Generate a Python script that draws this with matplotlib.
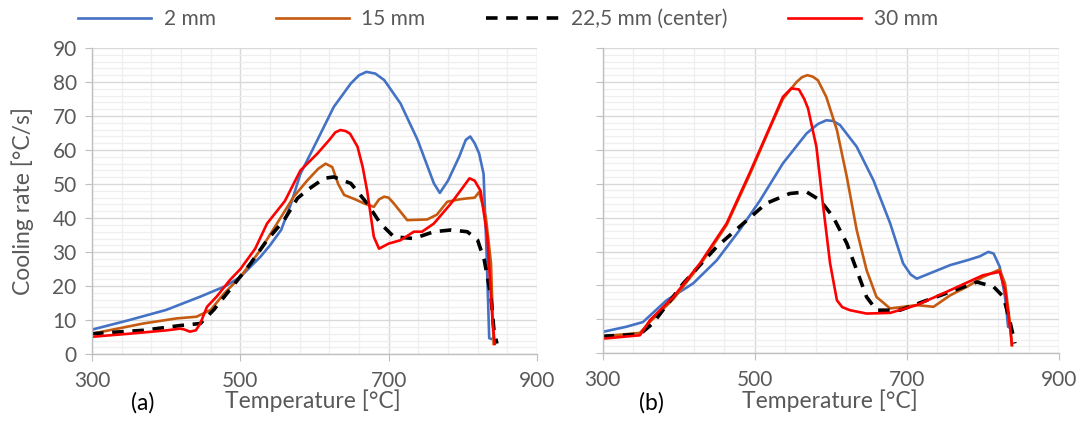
import numpy as np
import matplotlib
matplotlib.use("Agg")
import matplotlib.pyplot as plt
from matplotlib.ticker import MultipleLocator

plt.rcParams["font.family"] = ["Lato", "DejaVu Sans"]
txt = "#595959"

# ---- panel (a) ----
a_T_2 = [300, 350, 400, 446, 480, 500, 527, 540, 555, 568, 581, 604, 626, 649, 660, 670, 682, 694, 716, 739, 761, 769, 780, 795, 804, 810, 816, 822, 828, 832, 835.6, 838]
a_v_2 = [7.2, 10, 13, 16.9, 20, 22.7, 28.6, 32, 36.5, 44, 53, 63, 72.7, 79.6, 82, 83, 82.5, 80.6, 73.7, 63, 50.2, 47.4, 51, 58, 63, 64, 62, 59, 53, 30, 4.7, 4.5]

a_T_15 = [300, 369, 414, 441, 460, 478, 500, 527, 558, 572, 590, 605, 615, 624, 632, 640, 655, 667, 680, 687, 694, 700, 707, 725, 752, 765, 779, 795, 806, 816, 822, 831, 838, 841.5]
a_v_15 = [6, 9, 10.5, 11, 13, 17.8, 22.7, 30.6, 41.4, 46.3, 51, 54.5, 56, 55, 50, 46.8, 45.5, 44.3, 43.3, 45.5, 46.3, 46, 44.3, 39.4, 39.6, 41, 44.8, 45.5, 45.8, 46, 47.7, 40.4, 26.7, 3]

a_T_c = [300, 369, 419, 446, 464, 491, 514, 536, 559, 577, 590, 613, 626, 649, 671, 689, 707, 734, 761, 784, 806, 820, 829, 838, 842, 846]
a_v_c = [6, 7, 8.4, 9, 13, 20.3, 26.7, 33.5, 39.4, 45.8, 48.2, 51.7, 52.1, 50.2, 44.3, 38.4, 34.5, 34, 36, 36.5, 36, 33.5, 27.6, 16.8, 7, 3.1]

a_T_30 = [300, 350, 401, 419, 425, 432, 440, 446, 455, 468, 486, 500, 520, 536, 560, 581, 604, 620, 628, 635, 642, 648, 658, 665, 671, 680, 687, 700, 716, 734, 745, 761, 784, 800, 809, 816, 824, 833, 840, 843]
a_v_30 = [5.1, 6, 7, 7.5, 7.2, 6.6, 7, 9, 13.9, 16.9, 21.8, 25, 31, 38.4, 45, 54, 59, 63, 65.2, 65.9, 65.6, 64.8, 61, 55, 48, 34.5, 31, 32.5, 33.5, 36, 36, 38.4, 44.3, 49, 51.7, 51, 48, 34.5, 10, 3]

# ---- panel (b) ----
b_T_2 = [300, 331, 353, 384, 419, 450, 480, 507, 537, 568, 583, 594, 603, 612, 634, 656, 678, 695, 705, 713, 735, 757, 779, 796, 807, 814, 822, 829, 833, 836]
b_v_2 = [6.3, 7.8, 9.2, 15.6, 20.6, 27.4, 36.3, 45.1, 56, 64.8, 67.6, 68.7, 68.5, 67.3, 60.9, 51, 38.3, 26.5, 23.2, 22, 24, 26, 27.4, 28.6, 29.9, 29.4, 25.5, 16.6, 7.8, 7.5]

b_T_15 = [300, 349, 362, 393, 428, 463, 493, 520, 537, 555, 562, 569, 576, 583, 594, 608, 621, 634, 647, 660, 678, 713, 735, 757, 779, 800, 822, 829, 836, 838]
b_v_15 = [5, 6, 9.2, 16, 26, 37.8, 52.5, 66.5, 75, 80, 81.4, 82, 81.6, 80.5, 75.6, 65.8, 52, 36.3, 24.5, 16.6, 13.2, 14.2, 13.7, 17.1, 19.6, 22.5, 24.7, 20.6, 8, 2.4]

b_T_c = [300, 349, 366, 406, 450, 485, 515, 546, 568, 586, 603, 621, 634, 647, 660, 691, 726, 757, 792, 814, 827, 836, 842]
b_v_c = [5, 5.6, 8.8, 20.6, 31.4, 38.3, 44.2, 47.1, 47.6, 45.1, 40.2, 32.4, 24.5, 16.6, 12.7, 12.7, 15.6, 18.1, 21, 19.6, 16.6, 8.8, 2.9]

b_T_30 = [300, 349, 362, 393, 428, 463, 493, 520, 537, 548, 558, 565, 570, 581, 590, 599, 608, 615, 625, 647, 678, 713, 757, 800, 822, 829, 836, 838]
b_v_30 = [4.3, 5.3, 9.7, 16.6, 26.5, 38.3, 53, 66.8, 75.6, 78.1, 77.8, 75, 72.2, 60.9, 43.2, 26.5, 15.6, 13.6, 12.7, 11.7, 11.9, 14.2, 18.6, 23, 24, 18.6, 6.8, 2.4]

labels = ["2 mm", "15 mm", "22,5 mm (center)", "30 mm"]
x_ticks = [300, 500, 700, 900]
x_minor = [340, 380, 420, 460, 540, 580, 620, 660, 740, 780, 820, 860]
y_minor = [v for v in range(2, 90, 2) if v % 10 != 0]

fig = plt.figure(figsize=(10.8, 4.41), dpi=100)
ax_a = fig.add_axes([0.0852, 0.197, 0.412, 0.694])
ax_b = fig.add_axes([0.558, 0.199, 0.4226, 0.692])

panels = [
    (ax_a, [(a_T_2, a_v_2), (a_T_15, a_v_15), (a_T_c, a_v_c), (a_T_30, a_v_30)]),
    (ax_b, [(b_T_2, b_v_2), (b_T_15, b_v_15), (b_T_c, b_v_c), (b_T_30, b_v_30)]),
]

for ax, series in panels:
    ax.plot(series[0][0], series[0][1], color="#4472c4", lw=1.9, label=labels[0])
    ax.plot(series[1][0], series[1][1], color="#c55a11", lw=1.9, label=labels[1])
    ax.plot(series[2][0], series[2][1], color="black", lw=2.6, dashes=(3.2, 2.4), label=labels[2])
    ax.plot(series[3][0], series[3][1], color="#ff0000", lw=1.9, label=labels[3])

    ax.set_xlim(300, 900)
    ax.set_ylim(0, 90)
    ax.set_xticks(x_ticks)
    ax.set_xticks(x_minor, minor=True)
    ax.yaxis.set_major_locator(MultipleLocator(10))
    ax.set_yticks(y_minor, minor=True)
    ax.grid(True, which="minor", color="#efefef", lw=0.9)
    ax.grid(True, which="major", color="#d9d9d9", lw=1.0)
    ax.set_axisbelow(True)
    for s in ["top", "right"]:
        ax.spines[s].set_visible(False)
    for s in ["left", "bottom"]:
        ax.spines[s].set_color("#bfbfbf")
        ax.spines[s].set_linewidth(1.0)
    ax.tick_params(which="major", length=5, color="#bfbfbf", labelsize=15, labelcolor=txt)
    ax.tick_params(axis="x", pad=7)
    ax.tick_params(axis="y", pad=6)
    ax.tick_params(which="minor", length=0)

ax_b.tick_params(axis="y", labelleft=False)

fig.text(23 / 1080, 1 - 201 / 441, "Cooling rate [°C/s]", rotation=90, ha="center", va="center", fontsize=16.5, color=txt)
fig.text(143 / 1080, 1 - 403 / 441, "(a)", ha="center", va="center", fontsize=16.5, color="black")
fig.text(313 / 1080, 1 - 401 / 441, "Temperature [°C]", ha="center", va="center", fontsize=16.5, color=txt)
fig.text(651 / 1080, 1 - 403 / 441, "(b)", ha="center", va="center", fontsize=16.5, color="black")
fig.text(830 / 1080, 1 - 401 / 441, "Temperature [°C]", ha="center", va="center", fontsize=16.5, color=txt)

h, l = ax_a.get_legend_handles_labels()
leg = fig.legend(h, l, loc="center", bbox_to_anchor=(508 / 1080, 1 - 19 / 441), ncol=4, frameon=False,
                 fontsize=15, handlelength=3.5, handletextpad=0.6, columnspacing=2.9)
for t in leg.get_texts():
    t.set_color(txt)

plt.savefig("out.png", dpi=100)
